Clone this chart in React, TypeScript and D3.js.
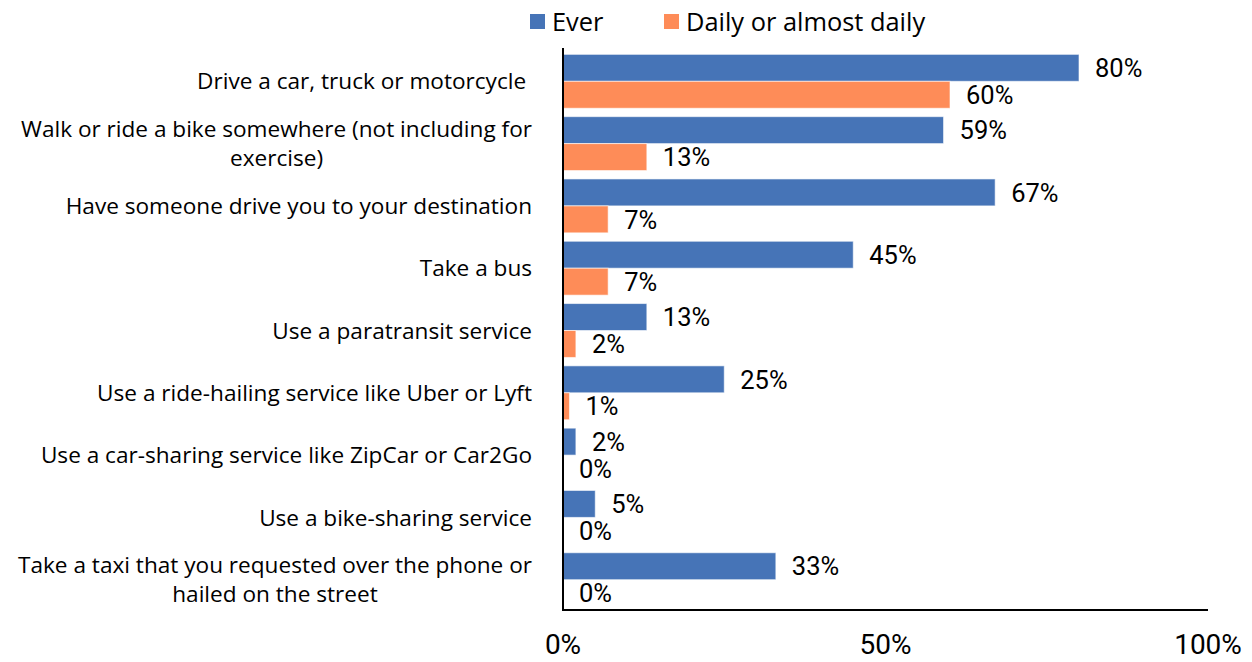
import * as d3 from "d3";
import React, { useEffect, useRef } from "react";

const categories = [
  ["Drive a car, truck or motorcycle "],
  ["Walk or ride a bike somewhere (not including for", "exercise)"],
  ["Have someone drive you to your destination"],
  ["Take a bus"],
  ["Use a paratransit service"],
  ["Use a ride-hailing service like Uber or Lyft"],
  ["Use a car-sharing service like ZipCar or Car2Go"],
  ["Use a bike-sharing service"],
  ["Take a taxi that you requested over the phone or", "hailed on the street"],
];
const ever = [80, 59, 67, 45, 13, 25, 2, 5, 33];
const daily = [60, 13, 7, 7, 2, 1, 0, 0, 0];
const seriesNames = ["Ever", "Daily or almost daily"];
const tickValues = [0, 50, 100];

const colors = ["#4674b7", "#fe8c58"];
const font = "'Open Sans', 'Noto Sans', sans-serif";
const numFont = "Roboto, sans-serif";
const narrow = "'Liberation Sans Narrow', 'Arial Narrow', Roboto, sans-serif";

function App() {
  const ref = useRef<SVGSVGElement | null>(null);

  useEffect(() => {
    const svg = d3.select(ref.current);
    svg.selectAll("*").remove();

    const x0 = 563;
    const x1 = 1208;
    const top = 50;
    const bottom = 611;

    const x = d3.scaleLinear().domain([0, 100]).range([x0, x1]);
    const idx = categories.map((_, i) => i);
    const y = d3
      .scaleBand<number>()
      .domain(idx)
      .range([top, bottom])
      .paddingInner(0.135)
      .paddingOuter(0.07);
    const inner = d3
      .scaleBand<number>()
      .domain([0, 1])
      .range([0, y.bandwidth()]);

    const series = [ever, daily];

    // bars + value labels
    series.forEach((vals, s) => {
      svg
        .append("g")
        .selectAll("rect")
        .data(vals)
        .enter()
        .append("rect")
        .attr("x", x(0))
        .attr("y", (_, i) => (y(i) as number) + (inner(s) as number))
        .attr("width", (d) => x(d) - x(0))
        .attr("height", inner.bandwidth())
        .attr("fill", colors[s])
        .attr("stroke", "#ffffff")
        .attr("stroke-opacity", 0.6)
        .attr("stroke-width", 1);

      svg
        .append("g")
        .selectAll("text")
        .data(vals)
        .enter()
        .append("text")
        .attr("x", (d) => x(d) + 16)
        .attr("y", (_, i) => (y(i) as number) + (inner(s) as number) + inner.bandwidth() / 2)
        .attr("dy", "0.36em")
        .attr("font-family", numFont)
        .attr("font-size", 25.5)
        .attr("fill", "#000")
        .text((d) => d + "%");
    });

    // axis lines
    svg
      .append("line")
      .attr("x1", x0)
      .attr("x2", x0)
      .attr("y1", top - 2)
      .attr("y2", bottom)
      .attr("stroke", "#000")
      .attr("stroke-width", 2);
    svg
      .append("line")
      .attr("x1", x0 - 1)
      .attr("x2", x1)
      .attr("y1", bottom - 1)
      .attr("y2", bottom - 1)
      .attr("stroke", "#000")
      .attr("stroke-width", 2);

    // tick labels
    svg
      .append("g")
      .selectAll("text")
      .data(tickValues)
      .enter()
      .append("text")
      .attr("x", (d) => x(d))
      .attr("y", 654)
      .attr("text-anchor", "middle")
      .attr("font-family", narrow)
      .attr("font-size", 28)
      .attr("fill", "#000")
      .text((d) => d + "%");

    // category labels: block right-aligned, lines centred
    const lineH = 29;
    const rightEdge = 532;
    categories.forEach((lines, i) => {
      const cy = (y(i) as number) + y.bandwidth() / 2;
      const g = svg.append("g");
      const texts = lines.map((ln, j) =>
        g
          .append("text")
          .attr("y", cy + (j - (lines.length - 1) / 2) * lineH)
          .attr("dy", "0.36em")
          .attr("text-anchor", "middle")
          .attr("font-family", font)
          .attr("font-size", 22.6)
          .attr("fill", "#000")
          .style("white-space", "pre")
          .text(ln)
      );
      const w = d3.max(texts, (t) => (t.node() as SVGTextElement).getComputedTextLength()) || 0;
      texts.forEach((t) => t.attr("x", rightEdge - w / 2));
    });

    // legend
    const legend = [
      { name: seriesNames[0], sx: 530, tx: 552 },
      { name: seriesNames[1], sx: 664, tx: 686 },
    ];
    legend.forEach((l, i) => {
      svg
        .append("rect")
        .attr("x", l.sx)
        .attr("y", 14)
        .attr("width", 15)
        .attr("height", 15)
        .attr("fill", colors[i]);
      svg
        .append("text")
        .attr("x", l.tx)
        .attr("y", 31)
        .attr("font-family", font)
        .attr("font-size", 25.4)
        .attr("fill", "#000")
        .text(l.name);
    });
  }, []);

  return (
    <svg
      ref={ref}
      width={1252}
      height={662}
      style={{ position: "absolute", left: 0, top: 0, background: "#fff" }}
    />
  );
}

export default App;
